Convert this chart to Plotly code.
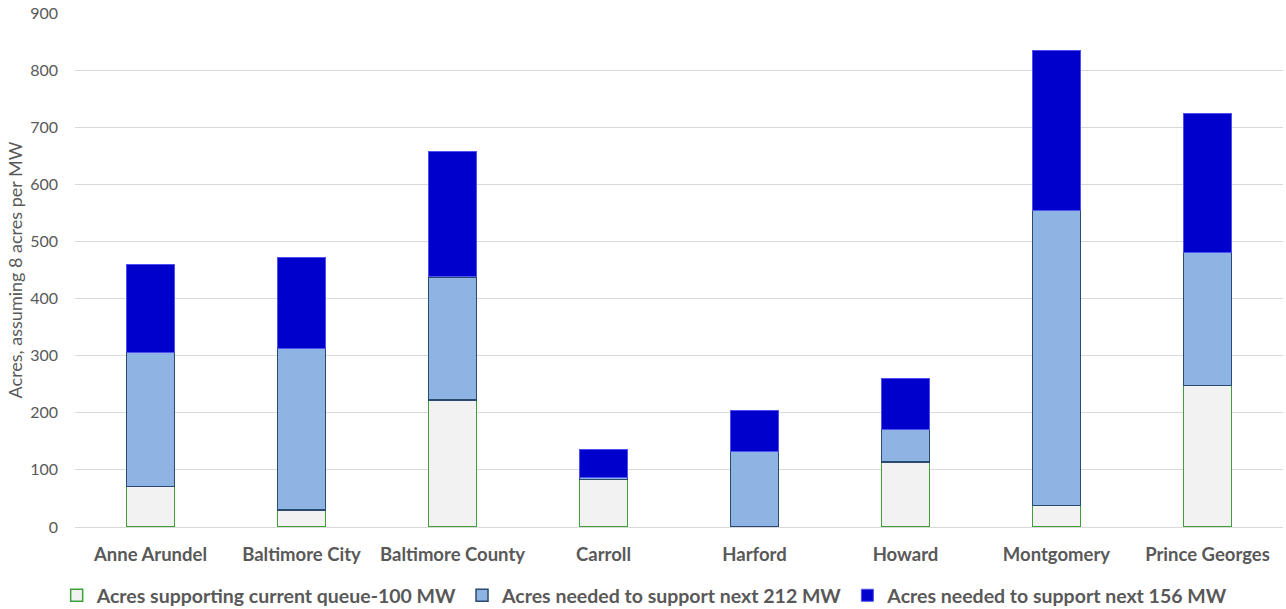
import plotly.graph_objects as go

categories = ["Anne Arundel", "Baltimore City", "Baltimore County", "Carroll",
              "Harford", "Howard", "Montgomery", "Prince Georges"]
queue_100 = [71, 30, 222, 83, 0, 114, 38, 248]
next_212 = [235, 283, 216, 4, 133, 57, 516, 233]
next_156 = [154, 159, 219, 48, 71, 89, 281, 243]
series_names = ["Acres supporting current queue-100 MW",
                "Acres needed to support next 212 MW",
                "Acres needed to support next 156 MW"]
y_ticks = [0, 100, 200, 300, 400, 500, 600, 700, 800, 900]

FONT = "Lato"
GRAY = "#595959"

fig = go.Figure()
fig.add_trace(go.Bar(x=categories, y=queue_100, name=series_names[0],
                     marker=dict(color="#F2F2F2", line=dict(color="#3FA03A", width=1.5))))
fig.add_trace(go.Bar(x=categories, y=next_212, name=series_names[1],
                     marker=dict(color="#8EB4E3", line=dict(color="#2B4A70", width=1.5))))
fig.add_trace(go.Bar(x=categories, y=next_156, name=series_names[2],
                     marker=dict(color="#0000CC", line=dict(color="#5050F0", width=1))))

fig.update_layout(
    barmode="stack",
    bargap=0.68,
    width=1286, height=609,
    margin=dict(l=75, r=3, t=13, b=82, autoexpand=False),
    paper_bgcolor="white", plot_bgcolor="white",
    font=dict(family=FONT, color=GRAY),
    xaxis=dict(tickfont=dict(family=FONT, size=18.5, color=GRAY, weight="bold"),
               showgrid=False, showline=False, ticks="", ticklabelstandoff=14,
               automargin=False),
    yaxis=dict(range=[0, 900], tickvals=y_ticks, showgrid=True, gridcolor="#D9D9D9",
               gridwidth=1, zeroline=True, zerolinecolor="#D9D9D9", zerolinewidth=1,
               tickfont=dict(family=FONT, size=16, color=GRAY),
               ticklabelstandoff=16, automargin=False,
               title=dict(text="Acres, assuming 8 acres per MW",
                          font=dict(family=FONT, size=18, color=GRAY), standoff=2)),
    legend=dict(orientation="h", x=0.472, xanchor="center",
                yref="container", y=0.022, yanchor="middle",
                font=dict(family=FONT, size=19.5, color=GRAY, weight="bold"),
                traceorder="normal", itemwidth=30),
    showlegend=True,
)

fig.write_html("out.html")
